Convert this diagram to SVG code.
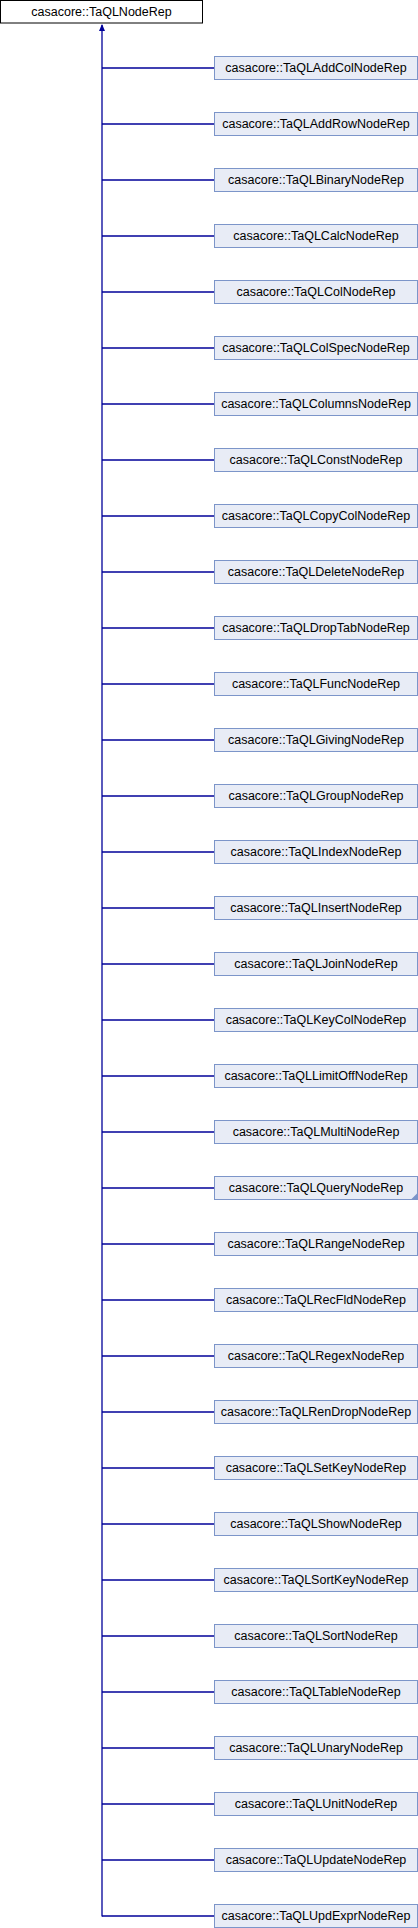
<svg xmlns="http://www.w3.org/2000/svg" width="418" height="1928" viewBox="0 0 418 1928">
<style>
.n rect{fill:#E8ECF6;stroke:#7C95C9;stroke-width:1}
.r rect{fill:#FFFFFF;stroke:#000000;stroke-width:1}
text{font-family:"Liberation Sans",Arial,sans-serif;font-size:12.5px;fill:#000;text-anchor:middle}
.c line{stroke:#000099;stroke-width:1.3}
</style>
<rect width="418" height="1928" fill="#fff"/>
<g id="connectors" class="c">
<line x1="102" y1="25" x2="102" y2="1916.5"/>
<polygon points="102,24 99,31 105,31" fill="#000099"/>
<line x1="102" y1="68" x2="214" y2="68"/>
<line x1="102" y1="124" x2="214" y2="124"/>
<line x1="102" y1="180" x2="214" y2="180"/>
<line x1="102" y1="236" x2="214" y2="236"/>
<line x1="102" y1="292" x2="214" y2="292"/>
<line x1="102" y1="348" x2="214" y2="348"/>
<line x1="102" y1="404" x2="214" y2="404"/>
<line x1="102" y1="460" x2="214" y2="460"/>
<line x1="102" y1="516" x2="214" y2="516"/>
<line x1="102" y1="572" x2="214" y2="572"/>
<line x1="102" y1="628" x2="214" y2="628"/>
<line x1="102" y1="684" x2="214" y2="684"/>
<line x1="102" y1="740" x2="214" y2="740"/>
<line x1="102" y1="796" x2="214" y2="796"/>
<line x1="102" y1="852" x2="214" y2="852"/>
<line x1="102" y1="908" x2="214" y2="908"/>
<line x1="102" y1="964" x2="214" y2="964"/>
<line x1="102" y1="1020" x2="214" y2="1020"/>
<line x1="102" y1="1076" x2="214" y2="1076"/>
<line x1="102" y1="1132" x2="214" y2="1132"/>
<line x1="102" y1="1188" x2="214" y2="1188"/>
<line x1="102" y1="1244" x2="214" y2="1244"/>
<line x1="102" y1="1300" x2="214" y2="1300"/>
<line x1="102" y1="1356" x2="214" y2="1356"/>
<line x1="102" y1="1412" x2="214" y2="1412"/>
<line x1="102" y1="1468" x2="214" y2="1468"/>
<line x1="102" y1="1524" x2="214" y2="1524"/>
<line x1="102" y1="1580" x2="214" y2="1580"/>
<line x1="102" y1="1636" x2="214" y2="1636"/>
<line x1="102" y1="1692" x2="214" y2="1692"/>
<line x1="102" y1="1748" x2="214" y2="1748"/>
<line x1="102" y1="1804" x2="214" y2="1804"/>
<line x1="102" y1="1860" x2="214" y2="1860"/>
<line x1="102" y1="1916" x2="214" y2="1916"/>
</g>
<g id="root" class="r"><rect x="0.5" y="0.5" width="202" height="22.5"/><text x="101.5" y="16">casacore::TaQLNodeRep</text></g>
<g id="n0" class="n"><rect x="214.5" y="56.5" width="203" height="23"/><text x="316" y="72">casacore::TaQLAddColNodeRep</text></g>
<g id="n1" class="n"><rect x="214.5" y="112.5" width="203" height="23"/><text x="316" y="128">casacore::TaQLAddRowNodeRep</text></g>
<g id="n2" class="n"><rect x="214.5" y="168.5" width="203" height="23"/><text x="316" y="184">casacore::TaQLBinaryNodeRep</text></g>
<g id="n3" class="n"><rect x="214.5" y="224.5" width="203" height="23"/><text x="316" y="240">casacore::TaQLCalcNodeRep</text></g>
<g id="n4" class="n"><rect x="214.5" y="280.5" width="203" height="23"/><text x="316" y="296">casacore::TaQLColNodeRep</text></g>
<g id="n5" class="n"><rect x="214.5" y="336.5" width="203" height="23"/><text x="316" y="352">casacore::TaQLColSpecNodeRep</text></g>
<g id="n6" class="n"><rect x="214.5" y="392.5" width="203" height="23"/><text x="316" y="408">casacore::TaQLColumnsNodeRep</text></g>
<g id="n7" class="n"><rect x="214.5" y="448.5" width="203" height="23"/><text x="316" y="464">casacore::TaQLConstNodeRep</text></g>
<g id="n8" class="n"><rect x="214.5" y="504.5" width="203" height="23"/><text x="316" y="520">casacore::TaQLCopyColNodeRep</text></g>
<g id="n9" class="n"><rect x="214.5" y="560.5" width="203" height="23"/><text x="316" y="576">casacore::TaQLDeleteNodeRep</text></g>
<g id="n10" class="n"><rect x="214.5" y="616.5" width="203" height="23"/><text x="316" y="632">casacore::TaQLDropTabNodeRep</text></g>
<g id="n11" class="n"><rect x="214.5" y="672.5" width="203" height="23"/><text x="316" y="688">casacore::TaQLFuncNodeRep</text></g>
<g id="n12" class="n"><rect x="214.5" y="728.5" width="203" height="23"/><text x="316" y="744">casacore::TaQLGivingNodeRep</text></g>
<g id="n13" class="n"><rect x="214.5" y="784.5" width="203" height="23"/><text x="316" y="800">casacore::TaQLGroupNodeRep</text></g>
<g id="n14" class="n"><rect x="214.5" y="840.5" width="203" height="23"/><text x="316" y="856">casacore::TaQLIndexNodeRep</text></g>
<g id="n15" class="n"><rect x="214.5" y="896.5" width="203" height="23"/><text x="316" y="912">casacore::TaQLInsertNodeRep</text></g>
<g id="n16" class="n"><rect x="214.5" y="952.5" width="203" height="23"/><text x="316" y="968">casacore::TaQLJoinNodeRep</text></g>
<g id="n17" class="n"><rect x="214.5" y="1008.5" width="203" height="23"/><text x="316" y="1024">casacore::TaQLKeyColNodeRep</text></g>
<g id="n18" class="n"><rect x="214.5" y="1064.5" width="203" height="23"/><text x="316" y="1080">casacore::TaQLLimitOffNodeRep</text></g>
<g id="n19" class="n"><rect x="214.5" y="1120.5" width="203" height="23"/><text x="316" y="1136">casacore::TaQLMultiNodeRep</text></g>
<g id="n20" class="n"><rect x="214.5" y="1176.5" width="203" height="23"/><text x="316" y="1192">casacore::TaQLQueryNodeRep</text><polygon points="417.5,1193 417.5,1199.5 411,1199.5" fill="#7C95C9"/></g>
<g id="n21" class="n"><rect x="214.5" y="1232.5" width="203" height="23"/><text x="316" y="1248">casacore::TaQLRangeNodeRep</text></g>
<g id="n22" class="n"><rect x="214.5" y="1288.5" width="203" height="23"/><text x="316" y="1304">casacore::TaQLRecFldNodeRep</text></g>
<g id="n23" class="n"><rect x="214.5" y="1344.5" width="203" height="23"/><text x="316" y="1360">casacore::TaQLRegexNodeRep</text></g>
<g id="n24" class="n"><rect x="214.5" y="1400.5" width="203" height="23"/><text x="316" y="1416">casacore::TaQLRenDropNodeRep</text></g>
<g id="n25" class="n"><rect x="214.5" y="1456.5" width="203" height="23"/><text x="316" y="1472">casacore::TaQLSetKeyNodeRep</text></g>
<g id="n26" class="n"><rect x="214.5" y="1512.5" width="203" height="23"/><text x="316" y="1528">casacore::TaQLShowNodeRep</text></g>
<g id="n27" class="n"><rect x="214.5" y="1568.5" width="203" height="23"/><text x="316" y="1584">casacore::TaQLSortKeyNodeRep</text></g>
<g id="n28" class="n"><rect x="214.5" y="1624.5" width="203" height="23"/><text x="316" y="1640">casacore::TaQLSortNodeRep</text></g>
<g id="n29" class="n"><rect x="214.5" y="1680.5" width="203" height="23"/><text x="316" y="1696">casacore::TaQLTableNodeRep</text></g>
<g id="n30" class="n"><rect x="214.5" y="1736.5" width="203" height="23"/><text x="316" y="1752">casacore::TaQLUnaryNodeRep</text></g>
<g id="n31" class="n"><rect x="214.5" y="1792.5" width="203" height="23"/><text x="316" y="1808">casacore::TaQLUnitNodeRep</text></g>
<g id="n32" class="n"><rect x="214.5" y="1848.5" width="203" height="23"/><text x="316" y="1864">casacore::TaQLUpdateNodeRep</text></g>
<g id="n33" class="n"><rect x="214.5" y="1904.5" width="203" height="23"/><text x="316" y="1920">casacore::TaQLUpdExprNodeRep</text></g>
</svg>
